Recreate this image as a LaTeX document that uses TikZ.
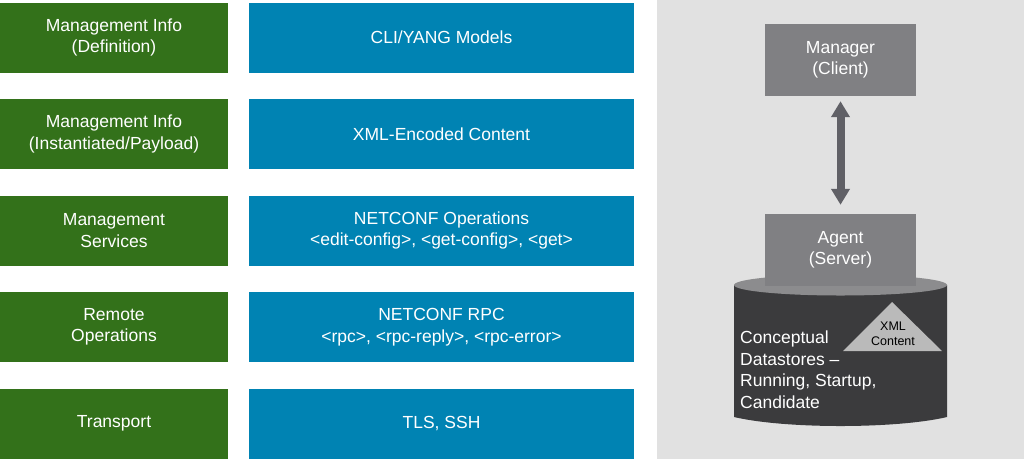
\documentclass[tikz,border=0pt]{standalone}
\usepackage{fontspec}
\setmainfont{Liberation Sans}
\usetikzlibrary{arrows.meta}
\usepackage{xcolor}
\definecolor{lgreen}{HTML}{33711A}
\definecolor{lblue}{HTML}{0083B3}
\definecolor{panel}{HTML}{E1E1E1}
\definecolor{boxgray}{HTML}{808083}
\definecolor{arrgray}{HTML}{606066}
\definecolor{dbdark}{HTML}{3B3B3D}
\definecolor{dbtop}{HTML}{8C8C8E}
\definecolor{trigray}{HTML}{BABABA}

\begin{document}
\begin{tikzpicture}[x=1pt,y=-1pt,
    every node/.style={text=white, align=center, inner sep=0pt,
      font=\fontsize{17.5}{21.5}\selectfont},
    lbox/.style={fill=lgreen, minimum width=228pt, minimum height=70pt},
    rbox/.style={fill=lblue, minimum width=385pt, minimum height=70pt},
    gbox/.style={fill=boxgray, minimum width=151pt, minimum height=72pt}]
    \useasboundingbox[fill=white] (0,0) rectangle (1024,459);
    \fill[panel] (657,0) rectangle (1024,459);
    % layers
    \node[lbox] (l1) at (114,37.5)  {Management Info\\(Definition)};
    \node[lbox] (l2) at (114,134)   {Management Info\\(Instantiated/Payload)};
    \node[lbox] (l3) at (114,230.5) {Management\\Services};
    \node[lbox] (l4) at (114,327)   {Remote\\Operations};
    \node[lbox] (l5) at (114,423.5) {Transport};
    \node[rbox] (r1) at (441.5,37.5)  {CLI/YANG Models};
    \node[rbox] (r2) at (441.5,134)   {XML-Encoded Content};
    \node[rbox] (r3) at (441.5,230.5) {NETCONF Operations\\<edit-config>, <get-config>, <get>};
    \node[rbox] (r4) at (441.5,327)   {NETCONF RPC\\<rpc>, <rpc-reply>, <rpc-error>};
    \node[rbox] (r5) at (441.5,423.5) {TLS, SSH};
    % datastore
    \fill[dbdark] (734,285) -- (734,417) .. controls (785,429) and (896,429) .. (947,417) -- (947,285) -- cycle;
    \fill[dbtop] (840.5,285) ellipse [x radius=106.5, y radius=10.5];
    \node[gbox] (mgr) at (840.5,60)  {Manager\\(Client)};
    \node[gbox] (agt) at (840.5,250) {Agent\\(Server)};
    \fill[trigray] (843,351) -- (892,302) -- (942,351) -- cycle;
    \node[text=black, font=\fontsize{12.5}{15}\selectfont] (xml) at (893,334) {XML\\Content};
    \node[anchor=west, align=left] (ds) at (740,369.5) {Conceptual\\Datastores –\\Running, Startup,\\Candidate};
    \draw[arrgray, line width=8pt, {Triangle[width=18pt,length=16pt]}-{Triangle[width=18pt,length=16pt]},
      shorten <=5pt, shorten >=9pt] (mgr) -- (agt);
\end{tikzpicture}
\end{document}
